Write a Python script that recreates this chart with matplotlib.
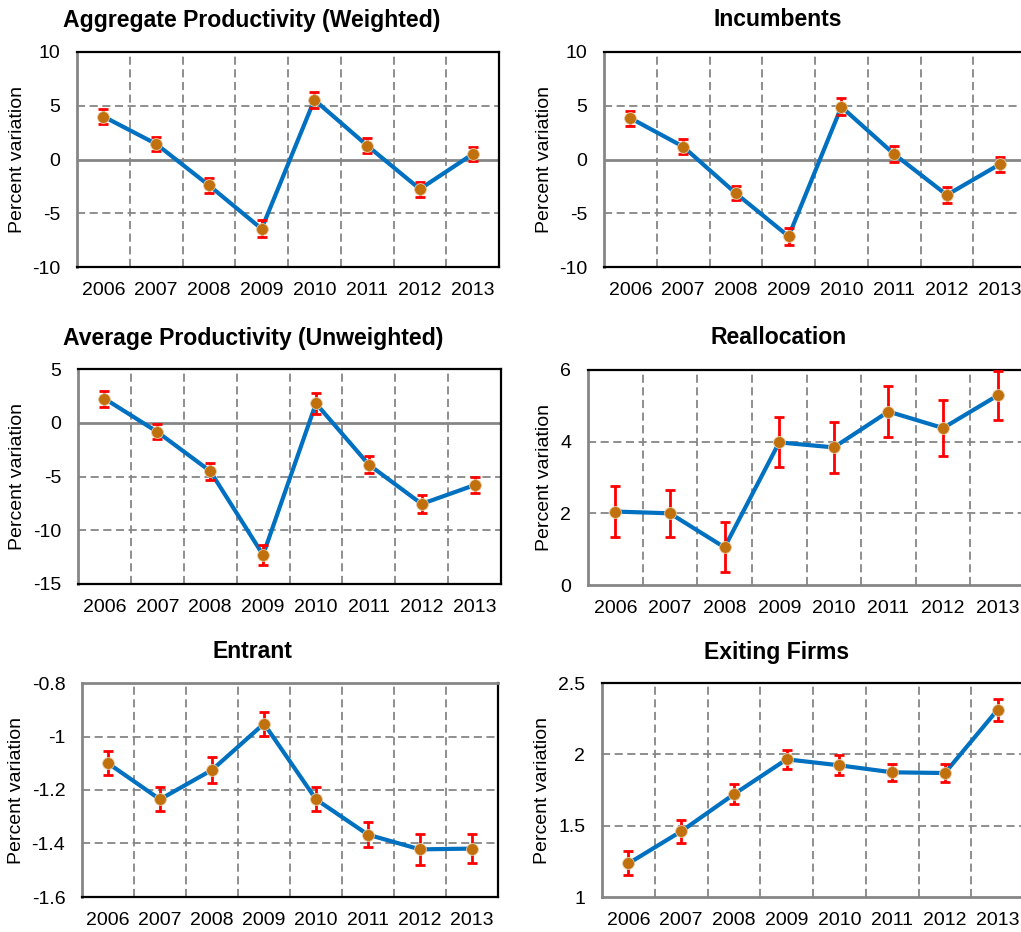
import matplotlib
matplotlib.use("Agg")
import matplotlib.pyplot as plt
from matplotlib.ticker import FuncFormatter

plt.rcParams['font.family'] = ['Liberation Sans', 'DejaVu Sans']
plt.rcParams['axes.unicode_minus'] = False

years = ['2006', '2007', '2008', '2009', '2010', '2011', '2012', '2013']

# Percent variation and error bar half-widths per panel
aggregate = [4.0, 1.45, -2.4, -6.45, 5.55, 1.3, -2.75, 0.5]
aggregate_err = [0.7, 0.65, 0.7, 0.8, 0.75, 0.7, 0.7, 0.65]

incumbents = [3.85, 1.2, -3.15, -7.15, 4.9, 0.5, -3.3, -0.45]
incumbents_err = [0.7, 0.7, 0.65, 0.8, 0.8, 0.75, 0.7, 0.7]

average = [2.25, -0.85, -4.5, -12.3, 1.8, -3.9, -7.55, -5.8]
average_err = [0.75, 0.7, 0.8, 0.9, 0.95, 0.8, 0.85, 0.75]

reallocation = [2.05, 2.0, 1.05, 3.98, 3.84, 4.84, 4.38, 5.29]
reallocation_err = [0.72, 0.65, 0.7, 0.7, 0.72, 0.72, 0.78, 0.68]

entrant = [-1.1, -1.235, -1.125, -0.952, -1.235, -1.367, -1.422, -1.419]
entrant_err = [0.045, 0.045, 0.05, 0.045, 0.045, 0.047, 0.057, 0.055]

exiting = [1.235, 1.46, 1.72, 1.965, 1.923, 1.874, 1.869, 2.313]
exiting_err = [0.084, 0.08, 0.07, 0.068, 0.07, 0.06, 0.06, 0.078]

line_blue = '#0070C0'
marker_col = '#C0700C'
grid_col = '#868686'

fig = plt.figure(figsize=(10.21, 9.32), dpi=100)
W, H = 1021.0, 932.0


def panel(left, top, width, height, title, title_xy, vals, errs, ylim, step,
          axis_at, ylab_x):
    ax = fig.add_axes([left / W, 1 - (top + height) / H, width / W, height / H])
    x = list(range(len(years)))
    ax.set_xlim(-0.5, len(years) - 0.5)
    ax.set_ylim(*ylim)

    # dashed grid: verticals between categories, horizontals at ticks
    for b in range(1, len(years)):
        ax.axvline(b - 0.5, color=grid_col, lw=1.3, ls=(0, (4.5, 2.5)), zorder=1)
    ticks = []
    t = ylim[0]
    while t <= ylim[1] + 1e-9:
        ticks.append(round(t, 6))
        t += step
    for t in ticks[1:-1]:
        if abs(t - axis_at) > 1e-9:
            ax.axhline(t, color=grid_col, lw=1.3, ls=(0, (4.5, 2.5)), zorder=1)

    for side in ['top', 'right', 'bottom']:
        ax.spines[side].set_color('black')
        ax.spines[side].set_linewidth(1.6)
    ax.spines['left'].set_color(grid_col)
    ax.spines['left'].set_linewidth(2)

    # category axis line sits at zero, or at the nearest limit
    if axis_at == ylim[0]:
        ax.spines['bottom'].set_color(grid_col)
        ax.spines['bottom'].set_linewidth(2)
    elif axis_at == ylim[1]:
        ax.spines['top'].set_color(grid_col)
        ax.spines['top'].set_linewidth(2)
    else:
        ax.axhline(axis_at, color=grid_col, lw=2, zorder=2)

    ax.plot(x, vals, color=line_blue, lw=3, zorder=3)
    ax.errorbar(x, vals, yerr=errs, fmt='none', ecolor='#FF0000', elinewidth=2,
                capsize=3.5, capthick=2, zorder=4, clip_on=False)
    ax.plot(x, vals, 'o', color=marker_col, ms=8.5, mec='#E8C8A0', mew=0.6,
            zorder=5)

    ax.set_xticks(x)
    ax.set_xticklabels(years)
    ax.set_yticks(ticks)
    ax.yaxis.set_major_formatter(FuncFormatter(lambda v, p: '%g' % v))
    ax.tick_params(axis='both', length=0, labelsize=14)
    ax.tick_params(axis='x', pad=11)
    ax.tick_params(axis='y', pad=12)
    ax.set_ylabel('Percent variation', fontsize=14)
    ax.yaxis.set_label_coords(ylab_x / width, 0.5)

    fig.text(title_xy[0] / W, 1 - title_xy[1] / H, title, fontsize=16.6,
             fontweight='bold', ha='center', va='center')
    return ax


panel(77, 52, 422, 215, 'Aggregate Productivity (Weighted)', (252, 20),
      aggregate, aggregate_err, (-10, 10), 5, 0, -51)
panel(604, 52, 422, 215, 'Incumbents', (778, 20),
      incumbents, incumbents_err, (-10, 10), 5, 0, -51)
panel(78, 369, 423, 215, 'Average Productivity (Unweighted)', (253, 338),
      average, average_err, (-15, 5), 5, 0, -52)
panel(588, 370, 437, 215, 'Reallocation', (779, 338),
      reallocation, reallocation_err, (0, 6), 2, 0, -35)
panel(82, 683, 416, 214, 'Entrant', (252, 651),
      entrant, entrant_err, (-1.6, -0.8), 0.2, -0.8, -57)
panel(602, 683, 422, 214, 'Exiting Firms', (777, 652),
      exiting, exiting_err, (1, 2.5), 0.5, 1, -51)

fig.savefig('out.png', dpi=100)
